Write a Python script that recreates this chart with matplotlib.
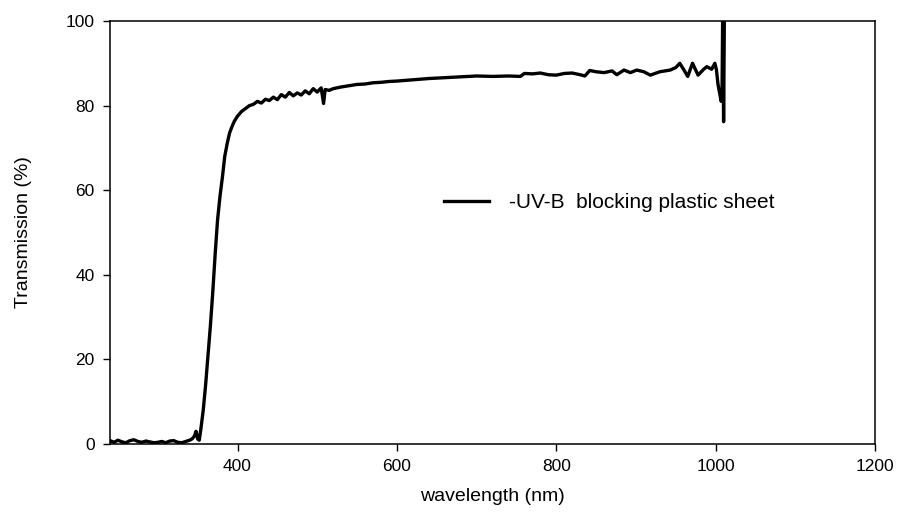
import matplotlib
matplotlib.use("Agg")
from matplotlib import pyplot as plt

plt.rcParams['font.family'] = ['Liberation Sans', 'DejaVu Sans']

# transmission spectrum
wavelength = [240, 245, 250, 255, 260, 265, 270, 275, 280, 285, 290, 295, 300, 305, 310,
              315, 320, 325, 330, 335, 340, 343, 346, 348, 350, 352, 354, 357, 360, 363,
              366, 369, 372, 375, 378, 381, 384, 387, 390, 393, 396, 400, 405, 410, 415,
              420, 425, 430, 435, 440, 445, 450, 455, 460, 465, 470, 475, 480, 485, 490,
              495, 500, 505, 508, 510, 515, 520, 530, 540, 550, 560, 570, 580, 590, 600,
              620, 640, 660, 680, 700, 720, 740, 755, 760, 770, 780, 790, 800, 810, 820,
              830, 836, 842, 850, 860, 870, 876, 885, 893, 901, 910, 918, 930, 943, 950,
              955, 960, 965, 971, 978, 985, 989, 995, 999, 1001, 1003, 1005, 1007, 1008,
              1009, 1010, 1011]
transmission = [0.8, 0.4, 0.9, 0.5, 0.3, 0.8, 1.0, 0.6, 0.4, 0.7, 0.5, 0.3, 0.4, 0.6, 0.3,
                0.7, 0.8, 0.4, 0.3, 0.6, 0.9, 1.2, 1.9, 3.0, 1.2, 0.9, 3.5, 8.0, 14.0, 21.0,
                28.0, 36.0, 45.0, 53.0, 58.5, 63.0, 68.0, 71.0, 73.5, 75.0, 76.3, 77.5, 78.6, 79.3, 80.0,
                80.3, 81.0, 80.6, 81.5, 81.2, 82.0, 81.4, 82.6, 82.0, 83.1, 82.3, 83.0, 82.5, 83.5, 82.8,
                84.0, 83.2, 84.2, 80.5, 83.8, 83.6, 84.0, 84.4, 84.7, 85.0, 85.1, 85.4, 85.5, 85.7, 85.8,
                86.1, 86.4, 86.6, 86.8, 87.0, 86.9, 87.0, 86.9, 87.6, 87.5, 87.7, 87.3, 87.2, 87.6, 87.7,
                87.3, 87.0, 88.3, 88.0, 87.8, 88.2, 87.3, 88.4, 87.8, 88.4, 88.0, 87.2, 88.0, 88.4, 89.0,
                90.0, 88.5, 86.9, 90.0, 87.2, 88.6, 89.2, 88.6, 90.0, 88.5, 85.0, 83.0, 81.0, 82.0,
                105.0, 76.2, 102.0]

x_ticks = [400, 600, 800, 1000, 1200]
y_ticks = [0, 20, 40, 60, 80, 100]
series_label = "-UV-B  blocking plastic sheet"


def main():
	fig = plt.figure(figsize=(8.99, 5.15), dpi=100)
	ax = fig.add_axes([110 / 899., 1 - 444 / 515., 765 / 899., 423 / 515.])

	ax.plot(wavelength, transmission, "k-", lw=2.4, solid_joinstyle="round", label=series_label)

	ax.set_xlim(240, 1200)
	ax.set_ylim(0, 100)
	ax.set_xticks(x_ticks)
	ax.set_yticks(y_ticks)
	ax.tick_params(direction="out", length=5, width=1, labelsize=12.5, pad=6)
	for sp in ax.spines.values():
		sp.set_linewidth(1.1)

	ax.set_xlabel("wavelength (nm)", fontsize=14, labelpad=10)
	ax.set_ylabel("Transmission (%)", fontsize=14, labelpad=24)

	ax.legend(loc="center left", bbox_to_anchor=(0.423, 0.57), frameon=False,
			  borderpad=0, handlelength=2.16, handletextpad=0.96, fontsize=15)

	fig.savefig("out.png", dpi=100)


if __name__ == "__main__":
	main()
